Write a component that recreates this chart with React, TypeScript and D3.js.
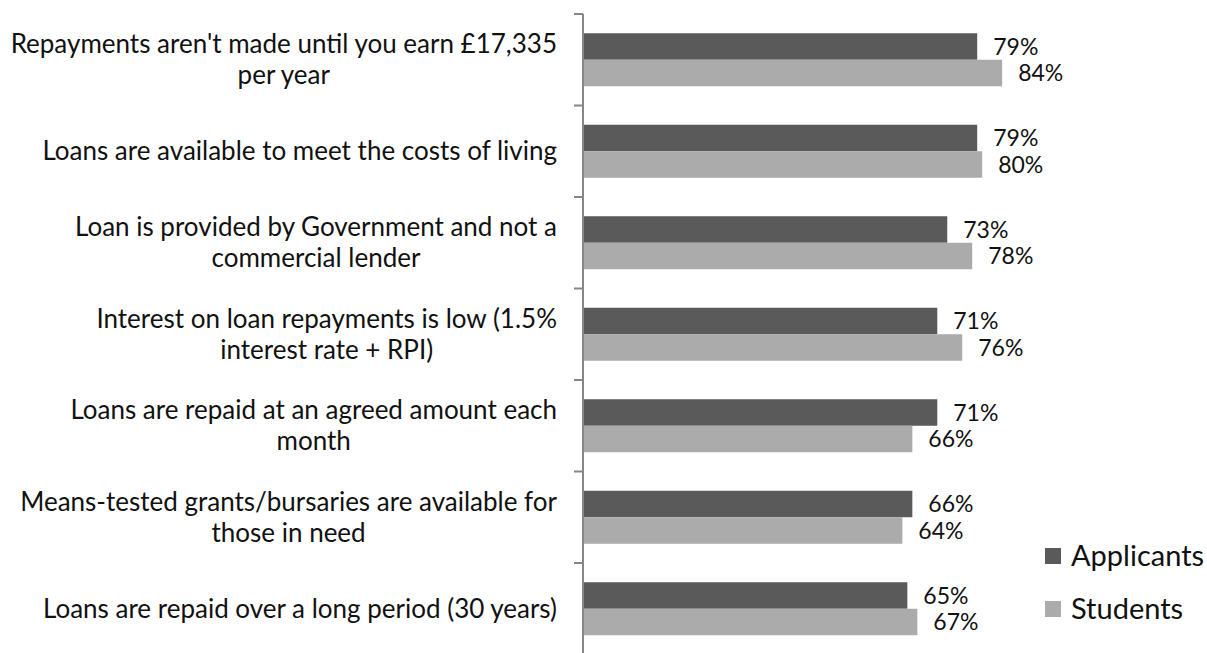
import React, { useEffect, useRef } from "react";
import * as d3 from "d3";

const categories: string[][] = [
  ["Repayments aren't made until you earn £17,335", "per year"],
  ["Loans are available to meet the costs of living"],
  ["Loan is provided by Government and not a", "commercial lender"],
  ["Interest on loan repayments is low (1.5%", "interest rate + RPI)"],
  ["Loans are repaid at an agreed amount each", "month"],
  ["Means-tested grants/bursaries are available for", "those in need"],
  ["Loans are repaid over a long period (30 years)"],
];
const seriesNames = ["Applicants", "Students"];
const applicants = [79, 79, 73, 71, 71, 66, 65];
const students = [84, 80, 78, 76, 66, 64, 67];
const colors = ["#5a5a5a", "#ababab"];

const W = 1207;
const H = 653;
const FONT = "Lato, 'Open Sans', sans-serif";
const FS = 26;
const VFS = 23;
const LFS = 29;

export default function App() {
  const ref = useRef<SVGSVGElement>(null);
  useEffect(() => {
    const svg = d3.select(ref.current!);
    svg.selectAll("*").remove();
    const idx = categories.map((_, i) => i);
    const axisX = 583;
    const x = d3.scaleLinear().domain([0, 100]).range([axisX, axisX + 499]);
    const y0 = d3.scaleBand<number>().domain(idx).range([14, 654.5]).padding(0);
    const groupH = 53;
    const y1 = d3.scaleBand<string>().domain(seriesNames).range([0, groupH]);
    const values = [applicants, students];

    const g = svg.append("g");
    seriesNames.forEach((s, si) => {
      g.selectAll(null)
        .data(values[si])
        .enter()
        .append("rect")
        .attr("x", axisX + 1)
        .attr("y", (_, i) => y0(i)! + (y0.bandwidth() - groupH) / 2 + y1(s)!)
        .attr("width", (d) => x(d) - axisX - 1)
        .attr("height", y1.bandwidth())
        .attr("fill", colors[si]);
      g.selectAll(null)
        .data(values[si])
        .enter()
        .append("text")
        .attr("x", (d) => x(d) + 16)
        .attr("y", (_, i) => y0(i)! + (y0.bandwidth() - groupH) / 2 + y1(s)! + y1.bandwidth() / 2)
        .attr("dy", "0.36em")
        .attr("font-family", FONT)
        .attr("font-size", VFS)
        .attr("fill", "#111")
        .text((d) => d + "%");
    });

    const axisColor = "#868686";
    g.append("line")
      .attr("x1", axisX).attr("x2", axisX)
      .attr("y1", 14).attr("y2", H)
      .attr("stroke", axisColor).attr("stroke-width", 2);
    const ticks = idx.map((i) => y0(i)!).concat([y0(idx.length - 1)! + y0.bandwidth()]);
    g.selectAll(null)
      .data(ticks)
      .enter()
      .append("line")
      .attr("x1", axisX - 9).attr("x2", axisX)
      .attr("y1", (d) => d).attr("y2", (d) => d)
      .attr("stroke", axisColor).attr("stroke-width", 2);

    const rightEdge = 557;
    const lineH = 31;
    categories.forEach((lines, i) => {
      const cy = y0(i)! + y0.bandwidth() / 2;
      const texts = lines.map((l, li) =>
        g.append("text")
          .attr("font-family", FONT)
          .attr("font-size", FS)
          .attr("fill", "#111")
          .attr("text-anchor", "middle")
          .attr("y", cy + (li - (lines.length - 1) / 2) * lineH)
          .attr("dy", "0.35em")
          .text(l)
      );
      const widths = texts.map((t) => (t.node() as SVGTextElement).getComputedTextLength());
      const bw = Math.max(...widths);
      texts.forEach((t) => t.attr("x", rightEdge - bw / 2));
    });

    seriesNames.forEach((s, si) => {
      const ly = 556 + si * 53;
      g.append("rect").attr("x", 1045).attr("y", ly - 8).attr("width", 16).attr("height", 16).attr("fill", colors[si]);
      g.append("text")
        .attr("x", 1071).attr("y", ly)
        .attr("dy", "0.35em")
        .attr("font-family", FONT)
        .attr("font-size", LFS)
        .attr("fill", "#111")
        .text(s);
    });
  }, []);
  return (
    <div style={{ position: "absolute", left: 0, top: 0 }}>
      <svg ref={ref} width={W} height={H} style={{ display: "block", background: "#fff" }} />
    </div>
  );
}
